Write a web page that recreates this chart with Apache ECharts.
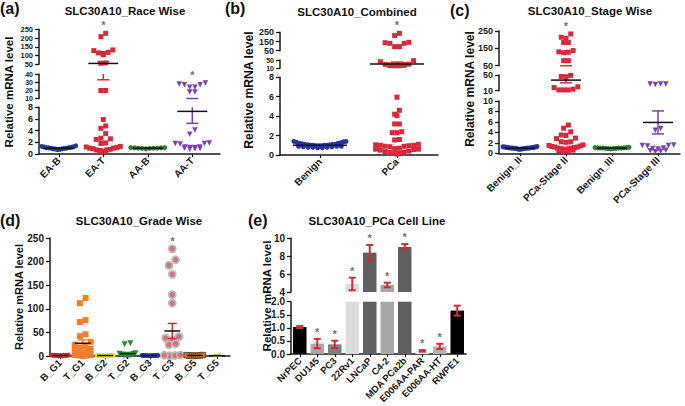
<!DOCTYPE html>
<html><head><meta charset="utf-8">
<script src="https://cdn.jsdelivr.net/npm/echarts@6.0.0/dist/echarts.min.js"></script>
<style>html,body{margin:0;padding:0;background:#fff;}#chart{width:685px;height:406px;}</style>
</head><body><div id="chart"></div>
<script>
// ================= DATA =================
// (a) Race wise
const aCats = ['EA-B','EA-T','AA-B','AA-T'];
const aEAB = [1.0,1.1,0.9,1.2,0.8,1.3,1.0,0.95,1.15,0.85,1.25,1.05,0.75,1.4,1.1,0.9];
const aEAT = [227,208,132,128,118,115,112,104,58,56,20,20,5.9,4.8,4.4,3.5,2.7,2.6,2.5,1.9,1.8,1.3,1.2,1.1,1.0,1.0,0.9,0.8,0.7,0.7,0.6,0.5,0.4,0.3];
const aAAB = [1.0,1.05,0.95,1.1,0.9,1.0,1.05,0.95,1.0,1.1];
const aAAT = [29,28,27,27,24,24,18,18,4.1,3.4,1.9,1.8,1.8,1.7,1.2,1.2,1.1,1.1,1.0,1.0,0.9,0.8];
const aMean = [1.0,55,1.0,7.3];
const aLow  = [0.95,33,0.97,5.25];
const aHigh = [1.05,65,1.03,10.2];
const aSig  = [0,1,0,1];

// (b) Combined
const bCats = ['Benign','PCa'];
const bBenign = [1.4,1.4,1.35,1.3,1.25,1.2,1.2,1.15,1.1,1.1,1.1,1.05,1.05,1.0,1.0,1.0,1.0,0.95,0.95,0.95,0.9,0.9,0.9,0.85,0.85,0.8,0.8,0.8,0.75,0.75];
const bPCa = [239,214,141,137,130,130,94,94,47,42,30,29,28,27,26,25,24,23,22,22,5.95,4.6,4.2,4.05,3.2,3.2,2.4,2.3,2.3,1.6,1.55,1.1,1.05,1.0,1.0,0.95,0.9,0.9,0.85,0.7,0.65,0.6,0.6,0.55,0.5,0.4,0.35,0.3,0.25,0.2,0.15,0.1];
const bMean = [1.0,31];
const bLow  = [0.97,22];
const bHigh = [1.03,40];
const bSig  = [0,1];

// (c) Stage wise
const cCats = ['Benign_II','PCa-Stage II','Benign_III','PCa-Stage III'];
const cB2 = [1.0,1.1,0.9,1.2,0.8,1.3,1.0,0.95,1.15,0.85,1.25,1.05,0.75,1.1,0.9,1.0,1.2,0.95,1.05,1.0,0.85,1.15];
const cS2 = [233,214,208,184,184,137,130,128,125,79,79,49,46,44,20,18,14,12,12,12,5.4,4.8,4.1,3.5,3.4,2.9,2.8,2.2,2.2,2.1,1.6,1.5,1.4,1.3,1.2,1.2,1.1,1.0,1.0,0.9,0.9,0.8,0.7,0.6,0.5,0.4,0.3];
const cB3 = [1.0,1.05,0.95,1.1,0.9,1.0,1.05,0.95,1.0,1.1,0.9,1.0,1.15,0.85];
const cS3 = [27,27,26,27,4.7,4.4,1.6,1.5,1.5,1.4,1.0,0.9,0.8,0.6,0.5,0.4,0.3];
const cMean = [1.0,37,1.0,5.9];
const cLow  = [0.97,30,0.98,3.7];
const cHigh = [1.03,50,1.02,8.1];
const cSig  = [0,1,0,0];

// (d) Grade wise
const dCats = ['B_G1','T_G1','B_G2','T_G2','B_G3','T_G3','B_G5','T_G5'];
const dBG1 = [1.5,1.0,0.5,2.0,1.2,0.8,1.5,1.0,0.6,1.8,1.3,0.9];
const dTG1 = [123,112,76,72,46,42,30,24,20,18,15,14,12,10,9,8,7,6,5,4,3,2,2,1,1,0.5];
const dBG2 = [1.0,1.2,0.8,1.1,0.9,1.0,1.3,0.7];
const dTG2 = [27,25,6,5,4,3,2.5,2,1.5,1,1,0.5];
const dBG3 = [1.0,1.2,0.8,1.1,0.9,1.0,1.3,0.7];
const dTG3 = [227,204,192,173,130,112,41,38,33,26,24,2,1.5,1,0.5];
const dBG5 = [1.0,1.5,0.8,2.0,1.2,0.6,1.8,1.0];
const dTG5 = [0.8,0.6];
const dMean = [1.1,27,1.0,5,1.0,53,1.2,0.7];
const dLow  = [1.0,20,0.95,2.5,0.95,37,1.0,0.6];
const dHigh = [1.2,34,1.05,7.5,1.05,69,1.4,0.8];
const dSig  = [0,0,0,0,0,1,0,0];

// (e) Cell lines
const eCats = ['NrPEC','DU145','PC3','22Rv1','LNCaP','C4-2','MDA PCa2b','E006AA-PAR','E006AA-HT','RWPE1'];
const eMean = [1.03,0.4,0.37,4.9,8.4,4.78,9.03,0.12,0.29,1.66];
const eSem  = [0.04,0.18,0.14,0.7,0.85,0.26,0.32,0.03,0.1,0.19];
const eSig  = [0,1,1,1,1,1,1,1,1,0];

// ================= STYLE / LAYOUT =================
const FONT = "'Liberation Sans', Arial, Helvetica, sans-serif";
const AX = '#1a1a1a';
const NAVY='#27369a', RED='#d8283a', GREEN='#2e7d32', PURPLE='#7a40b5';
const eColors = ['#000000','#a9a9a9','#808080','#dcdcdc','#606060','#a8a8a8','#606060','#ececec','#b3b3b3','#000000'];

const option = {animation:false, backgroundColor:'#ffffff', grid:[], xAxis:[], yAxis:[], series:[]};
const yLabelSpecs = [];

function swarm(vals, toPx, d, maxHalf){
  const items = vals.map(v=>({v, y:toPx(v)})).sort((p,q)=>p.y-q.y);
  const rows=[];
  for(const it of items){
    const r=rows[rows.length-1];
    if(r && it.y-r.y0 < d) r.items.push(it); else rows.push({y0:it.y, items:[it]});
  }
  const out=[];
  for(const r of rows){
    const k=r.items.length;
    let step=d;
    if(k>1 && (k-1)*step/2>maxHalf) step=2*maxHalf/(k-1);
    const pos=[]; for(let i=0;i<k;i++) pos.push((i-(k-1)/2)*step);
    pos.sort((p,q)=>Math.abs(p)-Math.abs(q)||p-q);
    const its=r.items.slice().sort((p,q)=>q.y-p.y);
    its.forEach((it,i)=>out.push([pos[i], it.v]));
  }
  return out;
}

function tickList(s){
  const out=[]; const n=Math.round((s.max-s.min)/s.interval);
  for(let k=0;k<=n;k++) out.push(+(s.min+k*s.interval).toFixed(6));
  return out;
}

function yAxisCfg(gi, s, font, left){
  const tv = tickList(s);
  yLabelSpecs.push({gi, tv, fmt: s.fmt || (v=>String(v)), font: s.font || font, left});
  return {gridIndex:gi, type:'value', min:s.min, max:s.max, interval:s.interval,
    axisLine:{show:true, onZero:false, lineStyle:{color:AX,width:1.5}},
    axisTick:{show:true, inside:false, length:4, customValues:tv, lineStyle:{color:AX,width:1.3}},
    axisLabel:{show:false},
    splitLine:{show:false}};
}

function starSeries(gi, x, y, dist){
  return {type:'scatter', xAxisIndex:gi, yAxisIndex:gi, data:[[x,y]], symbolSize:1, silent:true, clip:false, z:8,
    itemStyle:{color:'rgba(0,0,0,0)'},
    label:{show:true, position:'top', distance:dist, formatter:'*', fontSize:11, fontWeight:'bold', color:'#4a4a4a', fontFamily:FONT, lineHeight:9}};
}

function dotPanel(P){
  const xmin = -(P.c0-P.x0)/P.sp, xmax = (P.x1-P.c0)/P.sp;
  const segs = P.segs;
  const toPx = v => {
    let best=segs[0], bd=Infinity;
    for (const s of segs){
      if (v>=s.min && v<=s.max){ best=s; bd=0; break; }
      const dd=Math.min(Math.abs(v-s.min),Math.abs(v-s.max)); if(dd<bd){bd=dd;best=s;}
    }
    const c=Math.min(Math.max(v,best.min),best.max);
    return best.bottom-(c-best.min)/(best.max-best.min)*(best.bottom-best.top);
  };
  const placed = P.groups.map((vals,g)=> swarm(vals,toPx,P.sym[g].size*0.95,P.maxHalf).map(([dx,v])=>[g+dx/P.sp, v]));
  const idx = P.cats.map((c,i)=>i);
  segs.forEach((s,si)=>{
    const gi = option.grid.length;
    option.grid.push({left:P.x0, top:s.top, width:P.x1-P.x0, height:s.bottom-s.top});
    const isBottom = si===0;
    option.xAxis.push({gridIndex:gi, type:'value', min:xmin, max:xmax, show:isBottom,
      axisLine:{show:true, onZero:false, lineStyle:{color:AX,width:1.5}},
      axisTick:{show:true, customValues:idx, length:3, lineStyle:{color:AX,width:1.2}},
      axisLabel:{show:true, customValues:idx, rotate:45, margin:5, fontSize:P.xFont, fontWeight:'bold', fontFamily:FONT, color:AX,
        hideOverlap:false, formatter:v=>P.cats[Math.round(v)]},
      splitLine:{show:false}});
    option.yAxis.push(yAxisCfg(gi, s, P.yFont, P.x0));
    P.groups.forEach((vals,g)=>{
      const data = placed[g].filter(([x,v])=>v>=s.min && v<=s.max);
      if(!data.length) return;
      const sy=P.sym[g];
      option.series.push({type:'scatter', xAxisIndex:gi, yAxisIndex:gi, data, symbol:sy.shape, symbolSize:sy.size,
        symbolRotate:sy.rot||0, silent:true, clip:false, z:2,
        itemStyle:{color:sy.color, borderColor:sy.border||sy.color, borderWidth:sy.bw||0, opacity:1}});
    });
    option.series.push({type:'custom', xAxisIndex:gi, yAxisIndex:gi, z:5, silent:true, clip:false,
      data:P.cats.map((c,i)=>[i,P.mean[i],P.lo[i],P.hi[i]]),
      renderItem:(params,api)=>{
        const i=params.dataIndex, x=api.value(0), m=api.value(1), lo=api.value(2), hi=api.value(3);
        const X=api.coord([x,s.min])[0];
        const Y=v=>api.coord([x,v])[1];
        const inR=v=>v>=s.min-1e-9 && v<=s.max+1e-9;
        const col=P.sym[i].err||P.sym[i].color;
        const ch=[];
        const a=Math.max(lo,s.min), b=Math.min(hi,s.max);
        if(a<b) ch.push({type:'line', shape:{x1:X,y1:Y(a),x2:X,y2:Y(b)}, style:{stroke:col,lineWidth:1.5}});
        [lo,hi].forEach(v=>{ if(inR(v)) ch.push({type:'line', shape:{x1:X-P.capHalf,y1:Y(v),x2:X+P.capHalf,y2:Y(v)}, style:{stroke:col,lineWidth:1.5}}); });
        if(inR(m)) ch.push({type:'line', shape:{x1:X-P.meanHalf,y1:Y(m),x2:X+P.meanHalf,y2:Y(m)}, style:{stroke:'#111',lineWidth:1.5}});
        return {type:'group', children:ch};
      }});
    P.sig.forEach((sg,i)=>{
      if(!sg) return;
      const mx=Math.max(...P.groups[i]);
      if(mx>=s.min && mx<=s.max) option.series.push(starSeries(gi, i, mx, 3));
    });
  });
}

function barPanel(P){
  P.segs.forEach((s,si)=>{
    const gi = option.grid.length;
    option.grid.push({left:P.x0, top:s.top, width:P.x1-P.x0, height:s.bottom-s.top});
    const isBottom = si===0;
    option.xAxis.push({gridIndex:gi, type:'category', data:P.cats, show:isBottom, boundaryGap:true,
      axisLine:{show:true, onZero:false, lineStyle:{color:AX,width:1.5}},
      axisTick:{show:true, alignWithLabel:true, length:3, lineStyle:{color:AX,width:1.2}},
      axisLabel:{show:true, interval:0, rotate:45, margin:5, fontSize:P.xFont, fontWeight:'bold', fontFamily:FONT, color:AX, hideOverlap:false},
      splitLine:{show:false}});
    option.yAxis.push(yAxisCfg(gi, s, P.yFont, P.x0));
    option.series.push({type:'bar', xAxisIndex:gi, yAxisIndex:gi, barWidth:P.barW, clip:true, silent:true, z:2,
      data:P.mean.map((v,i)=>({value:(si===0 || v>=s.min)?v:'-', itemStyle:{color:eColors[i]}}))});
    option.series.push({type:'custom', xAxisIndex:gi, yAxisIndex:gi, z:5, silent:true, clip:false,
      data:P.mean.map((v,i)=>[i,v,P.sem[i]]),
      renderItem:(params,api)=>{
        const i=api.value(0), m=api.value(1), e=api.value(2);
        const lo=m-e, hi=m+e;
        const ch=[];
        if(!(hi<s.min || lo>s.max)){
          const X=api.coord([i,s.min])[0];
          const Y=v=>api.coord([i,v])[1];
          const a=Math.max(lo,s.min), b=Math.min(hi,s.max);
          ch.push({type:'line', shape:{x1:X,y1:Y(a),x2:X,y2:Y(b)}, style:{stroke:RED,lineWidth:2}});
          [lo,hi].forEach(v=>{ if(v>=s.min && v<=s.max) ch.push({type:'line', shape:{x1:X-3.5,y1:Y(v),x2:X+3.5,y2:Y(v)}, style:{stroke:RED,lineWidth:2}}); });
        }
        return {type:'group', children:ch};
      }});
    P.sig.forEach((sg,i)=>{
      if(!sg) return;
      const top=P.mean[i]+P.sem[i];
      if(top>=s.min && top<=s.max) option.series.push(starSeries(gi, i, top, 2));
    });
  });
}

// ---- panel a
dotPanel({x0:39, x1:220, c0:58.8, sp:44.5, cats:aCats, groups:[aEAB,aEAT,aAAB,aAAT],
  mean:aMean, lo:aLow, hi:aHigh, sig:aSig, maxHalf:17, meanHalf:15, capHalf:6, yFont:9, xFont:10,
  sym:[{shape:'circle',size:5,color:NAVY},{shape:'rect',size:5,color:RED},{shape:'circle',size:5,color:GREEN},{shape:'triangle',size:5.5,rot:180,color:PURPLE}],
  segs:[{min:0,max:8,interval:2,top:107.3,bottom:154},{min:10,max:40,interval:10,top:74,bottom:98.7,font:7},{min:50,max:250,interval:50,top:29.3,bottom:64.3,font:7.5}]});
// ---- panel b
dotPanel({x0:280, x1:438, c0:320, sp:77, cats:bCats, groups:[bBenign,bPCa],
  mean:bMean, lo:bLow, hi:bHigh, sig:bSig, maxHalf:26, meanHalf:27, capHalf:6, yFont:9, xFont:10,
  sym:[{shape:'circle',size:5,color:NAVY},{shape:'rect',size:5,color:RED}],
  segs:[{min:0,max:8,interval:2,top:77.3,bottom:155},{min:10,max:50,interval:40,top:60,bottom:68.3,font:7},{min:50,max:250,interval:100,top:32.3,bottom:50.7}]});
// ---- panel c
dotPanel({x0:499, x1:680, c0:520, sp:46, cats:cCats, groups:[cB2,cS2,cB3,cS3],
  mean:cMean, lo:cLow, hi:cHigh, sig:cSig, maxHalf:17, meanHalf:15, capHalf:6, yFont:9, xFont:10,
  sym:[{shape:'circle',size:5,color:NAVY},{shape:'rect',size:5,color:RED},{shape:'circle',size:5,color:GREEN},{shape:'triangle',size:5.5,rot:180,color:PURPLE}],
  segs:[{min:0,max:10,interval:2,top:101,bottom:153.3},{min:10,max:50,interval:40,top:75,bottom:90.7},{min:50,max:250,interval:100,top:31,bottom:65.7}]});
// ---- panel d
dotPanel({x0:50, x1:230, c0:60.3, sp:22.4, cats:dCats, groups:[dBG1,dTG1,dBG2,dTG2,dBG3,dTG3,dBG5,dTG5],
  mean:dMean, lo:dLow, hi:dHigh, sig:dSig, maxHalf:8, meanHalf:8, capHalf:4.5, yFont:10, xFont:10,
  sym:[{shape:'circle',size:5,color:'#d7262e'},{shape:'rect',size:6,color:'#f07f2d'},{shape:'circle',size:5,color:'#e3dc2a'},
       {shape:'triangle',size:6,rot:180,color:'#2f8a3a'},{shape:'circle',size:5,color:'#25379a'},
       {shape:'circle',size:7,color:'#d2727f',border:'#c2b6b8',bw:1.8,err:RED},{shape:'rect',size:5.5,color:'#c97a35',border:'#6b4a2a',bw:1},
       {shape:'triangle',size:4,rot:180,color:'#9bd77a'}],
  segs:[{min:0,max:250,interval:50,top:238,bottom:356}]});
// ---- panel e
barPanel({x0:291, x1:466, cats:eCats, mean:eMean, sem:eSem, sig:eSig, barW:13.5, yFont:10, xFont:9.5,
  segs:[{min:0,max:2,interval:0.5,top:301.7,bottom:354.7,fmt:v=>v.toFixed(1)},{min:4,max:10,interval:2,top:238.3,bottom:292}]});

// ---- texts
function txt(x,y,text,size,rot){
  return {type:'text', x, y, rotation:rot||0, z:10, silent:true,
    style:{text, fontSize:size, fontWeight:'bold', fontFamily:FONT, fill:'#111', align:'center', verticalAlign:'middle'}};
}
function lab(x,y,text){
  return {type:'text', x, y, z:10, silent:true,
    style:{text, fontSize:16, fontWeight:'bold', fontFamily:FONT, fill:'#111', align:'left', verticalAlign:'middle'}};
}
const graphics = [
  lab(0,8,'(a)'), lab(225,8,'(b)'), lab(450,10,'(c)'), lab(0,220,'(d)'), lab(248,220,'(e)'),
  txt(125,11,'SLC30A10_Race Wise',11.5), txt(357,12,'SLC30A10_Combined',11.5), txt(590,11,'SLC30A10_Stage Wise',11.5),
  txt(139,221,'SLC30A10_Grade Wise',11.5), txt(377,221,'SLC30A10_PCa Cell Line',11.5),
  txt(8.5,92,'Relative mRNA level',11.5,Math.PI/2), txt(249,90,'Relative mRNA level',12.2,Math.PI/2),
  txt(470,89,'Relative mRNA level',12,Math.PI/2), txt(18.5,297,'Relative mRNA level',11,Math.PI/2),
  txt(267,296,'Relative mRNA level',11.5,Math.PI/2)
];

const chart = echarts.init(document.getElementById('chart'), null, {renderer:'svg'});
chart.setOption(option);
// y tick labels placed through each axis's own scale
yLabelSpecs.forEach(sp=>{
  sp.tv.forEach(v=>{
    const y = chart.convertToPixel({yAxisIndex:sp.gi}, v);
    graphics.push({type:'text', x:sp.left-6, y, z:10, silent:true,
      style:{text:sp.fmt(v), fontSize:sp.font, fontWeight:'bold', fontFamily:FONT, fill:AX, align:'right', verticalAlign:'middle'}});
  });
});
chart.setOption({graphic:graphics});
</script>
</body></html>
